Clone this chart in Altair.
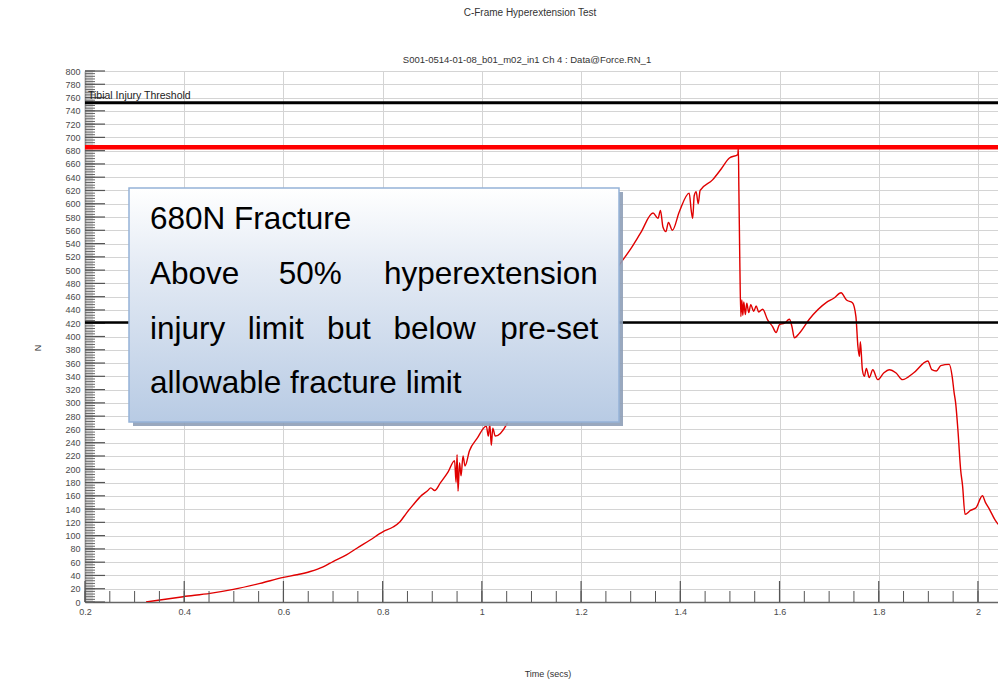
import altair as alt
import numpy as np
import pandas as pd

# ---------------- data ----------------
time_s = [0.323, 0.351, 0.398, 0.452, 0.499, 0.553, 0.600, 0.627, 0.654, 0.680,
          0.700, 0.727, 0.748, 0.774, 0.801, 0.821, 0.835, 0.848, 0.861, 0.879,
          0.891, 0.897, 0.905, 0.916, 0.932, 0.945, 0.948, 0.950, 0.952, 0.955,
          0.958, 0.962, 0.966, 0.975, 0.99, 1.009, 1.013, 1.016, 1.019, 1.022,
          1.027, 1.1, 1.2, 1.281, 1.30, 1.32, 1.345, 1.355, 1.36, 1.365,
          1.371, 1.376, 1.384, 1.398, 1.418, 1.422, 1.425, 1.428, 1.432, 1.436,
          1.44, 1.465, 1.482, 1.499, 1.516, 1.517, 1.518, 1.520, 1.522, 1.524,
          1.526, 1.528, 1.531, 1.534, 1.538, 1.542, 1.548, 1.553, 1.558, 1.566,
          1.576, 1.586, 1.593, 1.60, 1.61, 1.62, 1.625, 1.630, 1.640, 1.660,
          1.694, 1.71, 1.724, 1.735, 1.747, 1.754, 1.758, 1.761, 1.763, 1.767,
          1.771, 1.775, 1.781, 1.788, 1.798, 1.81, 1.821, 1.835, 1.848, 1.87,
          1.899, 1.907, 1.916, 1.925, 1.942, 1.948, 1.952, 1.955, 1.960, 1.965,
          1.969, 1.974, 1.985, 1.996, 2.009, 2.015, 2.023, 2.035, 2.043, 2.055]
force_n = [0, 3, 8, 13, 19, 28, 37, 41, 46, 53,
           61, 71, 81, 93, 106, 113, 121, 134, 146, 161,
           168, 172, 168, 179, 196, 213, 180, 222, 167, 210,
           190, 220, 205, 228, 246, 265, 250, 268, 236, 262,
           250, 350, 435, 512, 532, 556, 586, 578, 590, 565,
           558, 572, 560, 588, 616, 590, 578, 612, 618, 600,
           620, 636, 652, 669, 674, 684, 626, 511, 430, 455,
           432, 452, 433, 450, 436, 448, 438, 446, 437, 441,
           425, 415, 406, 418, 420, 426, 415, 398, 405, 426,
           451, 458, 466, 455, 451, 430, 385, 370, 392, 350,
           340, 352, 338, 350, 335, 345, 350, 345, 335, 345,
           363, 350, 348, 356, 358, 340, 315, 300, 255, 200,
           175, 132, 138, 142, 160, 150, 140, 123, 116, 130]

tibial_threshold = [752]
fracture_line = [685]
half_threshold = [421]

x_tick_labels = [0.2, 0.4, 0.6, 0.8, 1.0, 1.2, 1.4, 1.6, 1.8, 2.0]
y_tick_labels = list(range(0, 801, 20))

title_text = "C-Frame Hyperextension Test"
subtitle_text = "S001-0514-01-08_b01_m02_in1  Ch 4 : Data@Force.RN_1"
x_title = "Time (secs)"
y_title = "N"
threshold_label = "Tibial Injury Threshold"

# ---------------- layout ----------------
W, H = 913, 531
FONT = "Liberation Sans"

x_scale = alt.Scale(domain=[0.2, 2.0404], nice=False, zero=False)
y_scale = alt.Scale(domain=[0, 800], nice=False, zero=False)

x_axis = alt.Axis(values=x_tick_labels, format=".1~f", title=None, ticks=False,
                  tickSize=0, labelPadding=5, labelFontSize=9, labelColor="#4a4a4a",
                  labelFont=FONT, domainColor="#666666", domainWidth=1.5,
                  labelFlush=False, labelOverlap=False,
                  grid=True, gridColor="#d4d4d4", gridWidth=1)
y_axis = alt.Axis(values=y_tick_labels, title=None, ticks=False, tickSize=0,
                  labelPadding=5, labelFontSize=9, labelColor="#4a4a4a",
                  labelFont=FONT, domainColor="#666666", domainWidth=1.5,
                  labelFlush=False, labelOverlap=False,
                  grid=True, gridColor="#d4d4d4", gridWidth=1)


def X(field="t"):
    return alt.X(f"{field}:Q", scale=x_scale, axis=x_axis)


def Y(field="N"):
    return alt.Y(f"{field}:Q", scale=y_scale, axis=y_axis)


one = pd.DataFrame({"k": [0]})
curve = pd.DataFrame({"t": time_s, "N": force_n})

# axis tick rules drawn inward
y_fine = pd.DataFrame({"N": np.arange(0, 801, 2)})
y_minor = pd.DataFrame({"N": np.arange(0, 801, 4)})
y_major = pd.DataFrame({"N": np.arange(0, 801, 20)})
x_minor = pd.DataFrame({"t": np.round(np.arange(0.2, 2.041, 0.05), 3)})
x_major = pd.DataFrame({"t": x_tick_labels})

layers = []

layers.append(alt.Chart(curve).mark_line(color="#e00000", strokeWidth=1.4, clip=True,
                                         interpolate="monotone")
              .encode(x=X(), y=Y()))

layers.append(alt.Chart(y_fine).mark_rule(color="#bdbdbd", strokeWidth=0.8)
              .encode(y=Y(), x=alt.value(0), x2=alt.value(8)))
layers.append(alt.Chart(y_minor).mark_rule(color="#666666", strokeWidth=1)
              .encode(y=Y(), x=alt.value(0), x2=alt.value(10)))
layers.append(alt.Chart(y_major).mark_rule(color="#555555", strokeWidth=1.2)
              .encode(y=Y(), x=alt.value(0), x2=alt.value(20)))
layers.append(alt.Chart(x_minor).mark_rule(color="#555555", strokeWidth=1)
              .encode(x=X(), y=alt.value(H), y2=alt.value(H - 11)))
layers.append(alt.Chart(x_major).mark_rule(color="#555555", strokeWidth=1.2)
              .encode(x=X(), y=alt.value(H), y2=alt.value(H - 21)))

layers.append(alt.Chart(pd.DataFrame({"N": tibial_threshold}))
              .mark_rule(color="black", strokeWidth=3).encode(y=Y()))
layers.append(alt.Chart(pd.DataFrame({"N": half_threshold}))
              .mark_rule(color="black", strokeWidth=2.5).encode(y=Y()))
layers.append(alt.Chart(pd.DataFrame({"N": fracture_line}))
              .mark_rule(color="#ff0000", strokeWidth=4.5).encode(y=Y()))

# annotation box
box_x, box_x2, box_y, box_y2 = 44, 534, 117, 351
layers.append(alt.Chart(one).mark_rect(fill="#8e9fb7", opacity=0.9).encode(
    x=alt.value(box_x + 4), x2=alt.value(box_x2 + 4),
    y=alt.value(box_y + 4), y2=alt.value(box_y2 + 4)))
grad = alt.Gradient(gradient="linear",
                    stops=[alt.GradientStop(color="#ffffff", offset=0),
                           alt.GradientStop(color="#e3eaf4", offset=0.35),
                           alt.GradientStop(color="#b8cbe4", offset=1)],
                    x1=0, x2=0, y1=0, y2=1)
layers.append(alt.Chart(one).mark_rect(fill=grad, stroke="#95b3d7", strokeWidth=1.5).encode(
    x=alt.value(box_x), x2=alt.value(box_x2), y=alt.value(box_y), y2=alt.value(box_y2)))

box_words = [
    ("680N Fracture", 65, 158, "left"),
    ("Above", 65, 213, "left"),
    ("50%", 225.3, 213, "center"),
    ("hyperextension", 512.7, 213, "right"),
    ("injury", 65, 268, "left"),
    ("limit", 190.8, 268, "center"),
    ("but", 263.8, 268, "center"),
    ("below", 349.7, 268, "center"),
    ("pre-set", 513.3, 268, "right"),
    ("allowable fracture limit", 65, 322, "left"),
]
for word, wx, wy, al in box_words:
    layers.append(alt.Chart(one).mark_text(font=FONT, fontSize=31.5, color="black",
                                           align=al, baseline="alphabetic")
                  .encode(x=alt.value(wx), y=alt.value(wy), text=alt.value(word)))

# titles and labels
layers.append(alt.Chart(one).mark_text(font=FONT, fontSize=10, color="#333333",
                                       align="center", baseline="middle")
              .encode(x=alt.value(445), y=alt.value(-58), text=alt.value(title_text)))
layers.append(alt.Chart(one).mark_text(font=FONT, fontSize=9.5, color="#333333",
                                       align="center", baseline="middle")
              .encode(x=alt.value(442), y=alt.value(-11), text=alt.value(subtitle_text)))
layers.append(alt.Chart(one).mark_text(font=FONT, fontSize=9, color="#333333",
                                       align="center", baseline="middle")
              .encode(x=alt.value(463), y=alt.value(603), text=alt.value(x_title)))
layers.append(alt.Chart(one).mark_text(font=FONT, fontSize=9, color="#333333",
                                       align="center", baseline="middle", angle=270)
              .encode(x=alt.value(-47), y=alt.value(277), text=alt.value(y_title)))
layers.append(alt.Chart(one).mark_text(font=FONT, fontSize=10.5, color="#222222",
                                       align="left", baseline="middle")
              .encode(x=alt.value(3), y=alt.value(25), text=alt.value(threshold_label)))

chart = alt.layer(*layers).properties(
    width=W, height=H,
    autosize=alt.AutoSizeParams(type="none"),
    padding={"left": 77, "top": 63, "right": 0, "bottom": 78},
    background="white",
).configure_view(stroke="#a8a8a8", strokeWidth=1)

chart.save("out.html", embed_options={"renderer": "svg", "actions": False})
